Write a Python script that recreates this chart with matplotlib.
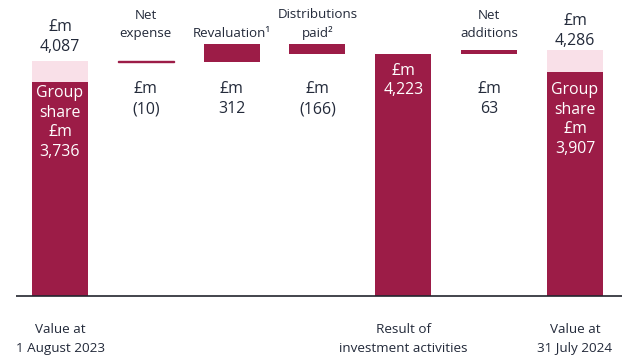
import numpy as np
import matplotlib
matplotlib.use('Agg')
import matplotlib.pyplot as plt

plt.rcParams['font.family'] = ['Open Sans', 'DejaVu Sans']

# data (£m)
opening_total = 4087
opening_group = 3736
steps = [-10, 312, -166]
step_names = ['Net\nexpense', 'Revaluation\u00b9', 'Distributions\npaid\u00b2']
step_labels = ['(10)', '312', '(166)']
result = 4223
additions = 63
closing_total = 4286
closing_group = 3907

bottom_labels = ['Value at\n1 August 2023', 'Result of\ninvestment activities', 'Value at\n31 July 2024']

dark = '#9c1c47'
pink = '#f9e0e8'
ink = '#232a3a'

W, H = 634, 357
fig = plt.figure(figsize=(W / 100, H / 100), dpi=100)
ax = fig.add_axes([0, 0, 1, 1])

# pixel helpers for the layout
step_px = 85.83
px0 = 60
scale = 17.42  # £m per pixel
base_px = 296
ax.set_xlim(-px0 / step_px, (W - px0) / step_px)
ax.set_ylim(-(H - base_px) * scale, base_px * scale)
ax.axis('off')

def fy(px):
    return 1 - px / H

tr = ax.get_xaxis_transform()
bw = 56 / step_px

# opening bar
ax.bar(0, opening_total, bw, color=pink, linewidth=0)
ax.bar(0, opening_group, bw, color=dark, linewidth=0)

# movements
level = opening_total
for i, s in enumerate(steps):
    lw = 1.0 if abs(s) / scale < 2 else 0
    ax.bar(i + 1, abs(s), bw, bottom=min(level, level + s), color=dark,
           edgecolor=dark, linewidth=lw)
    level += s

# result of investment activities
ax.bar(4, result, bw, color=dark, linewidth=0)

# net additions
ax.bar(5, additions, bw, bottom=result, color=dark, linewidth=0)

# closing bar
ax.bar(6, closing_total, bw, color=pink, linewidth=0)
ax.bar(6, closing_group, bw, color=dark, linewidth=0)

# baseline
ax.plot([-0.513, 6.548], [0, 0], color='#22252e', lw=1.2, solid_capstyle='butt')

# labels (y = baseline of the last line, in pixels from the top)
vfs = 11.4
vls = 1.31
cfs = 9.6
cls = 1.5

def label(x, y, s, size, ls, color=ink):
    ax.text(x, fy(y), s, transform=tr, ha='center', va='baseline',
            fontsize=size, color=color, linespacing=ls)

for i, (name, lab) in enumerate(zip(step_names, step_labels)):
    label(i + 1, 37, name, cfs, cls)
    label(i + 1, 113, '£m\n' + lab, vfs, vls)

label(5, 37, 'Net\nadditions', cfs, cls)
label(5, 113, '£m\n{:,}'.format(additions), vfs, vls)

label(0, 51, '£m\n{:,}'.format(opening_total), vfs, vls)
label(6, 45, '£m\n{:,}'.format(closing_total), vfs, vls)

label(0, 156, 'Group\nshare\n£m\n{:,}'.format(opening_group), vfs, vls, 'white')
label(6, 153, 'Group\nshare\n£m\n{:,}'.format(closing_group), vfs, vls, 'white')
label(4, 94.5, '£m\n{:,}'.format(result), vfs, vls, 'white')

for x, lab in zip([0, 4, 6], bottom_labels):
    label(x, 352, lab, 9.7, 1.6)

fig.savefig('out.png', dpi=100)
